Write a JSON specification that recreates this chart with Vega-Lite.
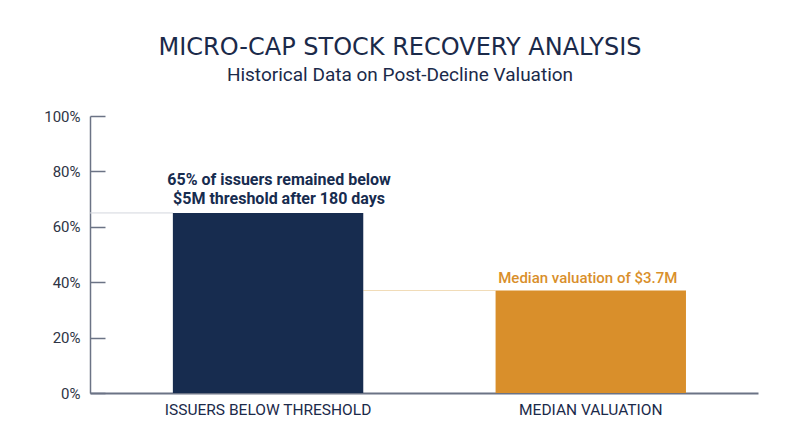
{
  "$schema": "https://vega.github.io/schema/vega-lite/v6.json",
  "width": 668,
  "height": 277,
  "autosize": "none",
  "padding": {"left": 90, "top": 116, "right": 42, "bottom": 54},
  "background": "white",
  "title": {
    "text": "MICRO-CAP STOCK RECOVERY ANALYSIS",
    "subtitle": "Historical Data on Post-Decline Valuation",
    "anchor": "middle",
    "frame": "group",
    "dx": -24,
    "offset": 24,
    "font": "DejaVu Sans",
    "fontSize": 24,
    "fontWeight": "normal",
    "color": "#1b2a4a",
    "subtitleFont": "Roboto",
    "subtitleFontSize": 19,
    "subtitleColor": "#1b2a4a",
    "subtitlePadding": 6
  },
  "datasets": {
    "bars": [
      {"category": "ISSUERS BELOW THRESHOLD", "value": 0.65, "series": "issuers", "line1": "65% of issuers remained below", "line2": "$5M threshold after 180 days"},
      {"category": "MEDIAN VALUATION", "value": 0.37, "series": "median", "line1": "Median valuation of $3.7M", "line2": ""}
    ],
    "refs": [
      {"start": "ISSUERS BELOW THRESHOLD", "end": "MEDIAN VALUATION", "level": 0.37}
    ]
  },
  "config": {
    "view": {"stroke": null},
    "font": "Roboto"
  },
  "layer": [
    {
      "data": {"name": "bars"},
      "transform": [{"filter": "datum.series == 'issuers'"}],
      "mark": {"type": "rule", "color": "#d3d6dd", "strokeWidth": 1},
      "encoding": {
        "x": {"field": "category", "type": "nominal", "bandPosition": 0},
        "x2": {"value": 0},
        "y": {"field": "value", "type": "quantitative"}
      }
    },
    {
      "data": {"name": "refs"},
      "mark": {"type": "rule", "color": "#f1dcb8", "strokeWidth": 1},
      "encoding": {
        "x": {"field": "start", "type": "nominal", "bandPosition": 1},
        "x2": {"field": "end", "bandPosition": 0},
        "y": {"field": "level", "type": "quantitative"}
      }
    },
    {
      "data": {"name": "bars"},
      "mark": {"type": "bar"},
      "encoding": {
        "x": {
          "field": "category",
          "type": "nominal",
          "sort": null,
          "scale": {"paddingInner": 0.41, "paddingOuter": 0.24, "align": 0.535},
          "axis": {
            "title": null,
            "labelAngle": 0,
            "labelAlign": "center",
            "bandPosition": 0.5,
            "labelLimit": 400,
            "labelFont": "Roboto",
            "labelFontSize": 15.5,
            "labelColor": "#1b2a4a",
            "labelPadding": 16,
            "ticks": false,
            "domainColor": "#6b7385",
            "domainWidth": 2
          }
        },
        "y": {
          "field": "value",
          "type": "quantitative",
          "scale": {"domain": [0, 1]},
          "axis": {
            "title": null,
            "format": ".0%",
            "values": [0, 0.2, 0.4, 0.6, 0.8, 1],
            "grid": false,
            "labelFont": "Roboto",
            "labelFontSize": 15,
            "labelColor": "#2e3445",
            "tickSize": -15,
            "labelPadding": 25,
            "tickColor": "#6b7385",
            "tickWidth": 1.5,
            "domainColor": "#6b7385",
            "domainWidth": 1.5
          }
        },
        "color": {
          "field": "series",
          "type": "nominal",
          "scale": {"domain": ["issuers", "median"], "range": ["#172c4f", "#d98f2b"]},
          "legend": null
        }
      }
    },
    {
      "data": {"name": "bars"},
      "transform": [{"filter": "datum.series == 'issuers'"}],
      "mark": {"type": "text", "font": "Roboto", "fontSize": 16, "fontWeight": "bold", "color": "#172c4f", "baseline": "bottom", "dx": 11, "dy": -25},
      "encoding": {
        "x": {"field": "category", "type": "nominal"},
        "y": {"field": "value", "type": "quantitative"},
        "text": {"field": "line1", "type": "nominal"}
      }
    },
    {
      "data": {"name": "bars"},
      "transform": [{"filter": "datum.series == 'issuers'"}],
      "mark": {"type": "text", "font": "Roboto", "fontSize": 16, "fontWeight": "bold", "color": "#172c4f", "baseline": "bottom", "dx": 11, "dy": -6},
      "encoding": {
        "x": {"field": "category", "type": "nominal"},
        "y": {"field": "value", "type": "quantitative"},
        "text": {"field": "line2", "type": "nominal"}
      }
    },
    {
      "data": {"name": "bars"},
      "transform": [{"filter": "datum.series == 'median'"}],
      "mark": {"type": "text", "font": "Roboto", "fontSize": 15, "fontWeight": 500, "color": "#d98f2b", "baseline": "bottom", "dx": -3, "dy": -5},
      "encoding": {
        "x": {"field": "category", "type": "nominal"},
        "y": {"field": "value", "type": "quantitative"},
        "text": {"field": "line1", "type": "nominal"}
      }
    }
  ]
}
